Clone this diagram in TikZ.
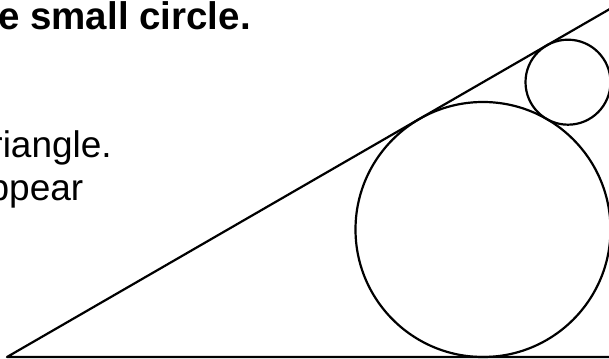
\documentclass[tikz,border=0pt]{standalone}
\usepackage{fontspec}
\setmainfont{Liberation Sans}
\usetikzlibrary{calc}

\begin{document}
\begin{tikzpicture}[
  x=1pt, y=1pt,
  head/.style={inner sep=0pt, anchor=base east, font=\fontsize{38.5}{44}\selectfont\bfseries},
  body/.style={inner sep=0pt, anchor=base east, font=\fontsize{37}{43}\selectfont},
  side/.style={line width=2.2pt, line join=round},
  ring/.style={line width=2.2pt}]
\useasboundingbox (0,0) rectangle (609,358);
\clip (0,0) rectangle (609,358);
% triangle with a 30 degree angle at A, right angle at C (just off the page)
\coordinate (A) at (7,1);
\coordinate (C) at (610.5,1);
\coordinate (B) at (610.5,349.4);
\coordinate (big) at (483,128.5);
\coordinate (small) at (568,275.8);
\draw[side] (B) -- (A) -- (C);
\draw[ring] (big) circle (127.5);
\draw[ring] (small) circle (42.5);
\node[head] (title) at (251,328.7) {e small circle.};
\node[body] (line1) at (112,200.5) {riangle.};
\node[body] (line2) at (83.5,157) {ppear};
\end{tikzpicture}
\end{document}
